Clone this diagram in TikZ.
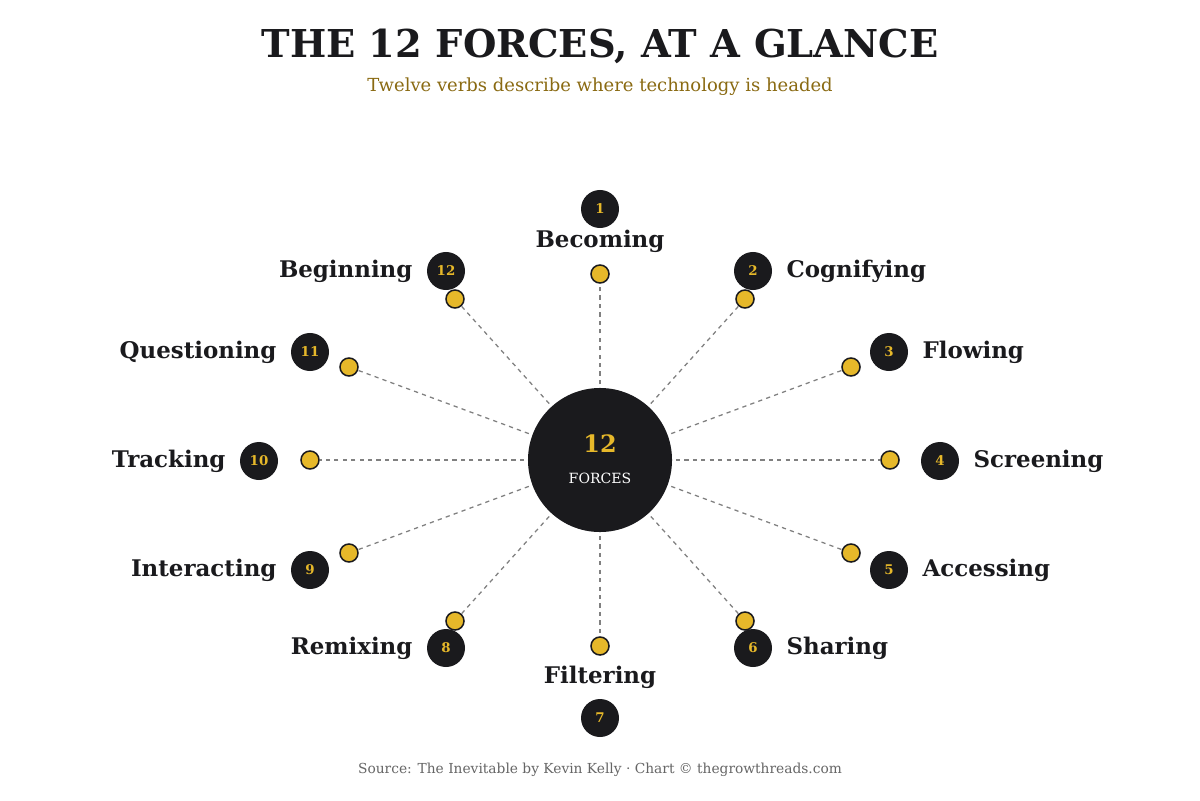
\documentclass[tikz,border=0pt]{standalone}
\usepackage{fontspec}
\setmainfont{DejaVu Serif}
\usepackage{tikz}
\usetikzlibrary{positioning}

\definecolor{ink}{HTML}{1A1A1D}
\definecolor{gold}{HTML}{E6B82A}
\definecolor{olive}{HTML}{8A6A12}
\definecolor{spoke}{HTML}{808080}

\tikzset{
  hub/.style={circle, fill=ink, minimum size=3.6cm, inner sep=0pt},
  dotnode/.style={circle, fill=gold, draw=ink, line width=1.1pt, minimum size=0.45cm, inner sep=0pt},
  numnode/.style={circle, fill=ink, text=gold, minimum size=0.95cm, inner sep=0pt, font=\bfseries\fontsize{9.5}{9.5}\selectfont},
  lbl/.style={text=ink, inner sep=0pt, font=\bfseries\fontsize{16.3}{16.3}\selectfont},
  spokeline/.style={spoke, dash pattern=on 3pt off 3pt, line width=0.9pt},
}

\begin{document}
\begin{tikzpicture}[x=0.025cm, y=-0.025cm]
    \fill[white] (0,0) rectangle (1200,800);
    \useasboundingbox (0,0) rectangle (1200,800);

    % heading
    \node[text=ink, font=\bfseries\fontsize{27.3}{27.3}\selectfont] (title) at (600,46) {THE 12 FORCES, AT A GLANCE};
    \node[text=olive, font=\fontsize{12.8}{12.8}\selectfont] (sub) at (600,87) {Twelve verbs describe where technology is headed};

    % outer dots
    \node[dotnode] (d1) at (600,274) {};
    \node[dotnode] (d2) at (745,299) {};
    \node[dotnode] (d3) at (851,367) {};
    \node[dotnode] (d4) at (890,460) {};
    \node[dotnode] (d5) at (851,553) {};
    \node[dotnode] (d6) at (745,621) {};
    \node[dotnode] (d7) at (600,646) {};
    \node[dotnode] (d8) at (455,621) {};
    \node[dotnode] (d9) at (349,553) {};
    \node[dotnode] (d10) at (310,460) {};
    \node[dotnode] (d11) at (349,367) {};
    \node[dotnode] (d12) at (455,299) {};

    % spokes, behind the hub
    \coordinate (c) at (600,460);
    \foreach \i in {1,...,12}
      \draw[spokeline] (c) -- (d\i);
    \node[hub] (hub) at (c) {};
    \node[text=gold, font=\bfseries\fontsize{17}{17}\selectfont] (hubnum) at (600,444) {12};
    \node[text=white, font=\fontsize{10}{10}\selectfont] (hubtxt) at (600,478) {FORCES};

    % numbered badges
    \node[numnode] (n1) at (600,209) {1};
    \node[numnode] (n2) at (753,271) {2};
    \node[numnode] (n3) at (889,352) {3};
    \node[numnode] (n4) at (940,461) {4};
    \node[numnode] (n5) at (889,570) {5};
    \node[numnode] (n6) at (753,648) {6};
    \node[numnode] (n7) at (600,718) {7};
    \node[numnode] (n8) at (446,648) {8};
    \node[numnode] (n9) at (310,570) {9};
    \node[numnode] (n10) at (259,461) {10};
    \node[numnode] (n11) at (310,352) {11};
    \node[numnode] (n12) at (446,271) {12};

    % verbs
    \node[lbl] (l1) at (600,241) {Becoming};
    \node[lbl, right=0.35cm of n2] (l2) {Cognifying};
    \node[lbl, right=0.35cm of n3] (l3) {Flowing};
    \node[lbl, right=0.35cm of n4] (l4) {Screening};
    \node[lbl, right=0.35cm of n5] (l5) {Accessing};
    \node[lbl, right=0.35cm of n6] (l6) {Sharing};
    \node[lbl] (l7) at (600,677) {Filtering};
    \node[lbl, left=0.35cm of n8] (l8) {Remixing};
    \node[lbl, left=0.35cm of n9] (l9) {Interacting};
    \node[lbl, left=0.35cm of n10] (l10) {Tracking};
    \node[lbl, left=0.35cm of n11] (l11) {Questioning};
    \node[lbl, left=0.35cm of n12] (l12) {Beginning};

    % footer
    \node[text=black!60, font=\fontsize{9.8}{9.8}\selectfont] (src) at (600,770) {Source: The Inevitable by Kevin Kelly · Chart © thegrowthreads.com};
\end{tikzpicture}
\end{document}
